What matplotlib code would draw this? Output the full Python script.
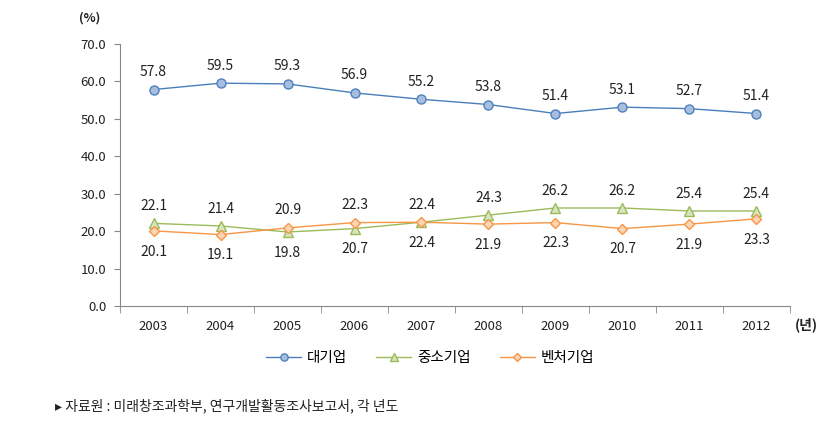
import numpy as np
import matplotlib
matplotlib.use("Agg")
import matplotlib.pyplot as plt

plt.rcParams['font.family'] = ['Noto Sans CJK KR', 'DejaVu Sans']

years = ['2003', '2004', '2005', '2006', '2007', '2008', '2009', '2010', '2011', '2012']
large = [57.8, 59.5, 59.3, 56.9, 55.2, 53.8, 51.4, 53.1, 52.7, 51.4]
sme = [22.1, 21.4, 19.8, 20.7, 22.4, 24.3, 26.2, 26.2, 25.4, 25.4]
venture = [20.1, 19.1, 20.9, 22.3, 22.4, 21.9, 22.3, 20.7, 21.9, 23.3]
names = ['대기업', '중소기업', '벤처기업']
yticks = [0, 10, 20, 30, 40, 50, 60, 70]

fig = plt.figure(figsize=(8.28, 4.47), dpi=100)
ax = fig.add_axes([0.145, 0.315, 0.809, 0.587])
x = np.arange(len(years))

ax.plot(x, large, color='#4A7EBB', lw=1.0, marker='o', ms=6.5,
        mfc='#A7BEDE', mec='#4F81BD', mew=1.0, label=names[0])
ax.plot(x, sme, color='#9BBB59', lw=1.0, marker='^', ms=6.5,
        mfc='#D7E4BD', mec='#9BBB59', mew=1.0, label=names[1])
ax.plot(x, venture, color='#F79646', lw=1.0, marker='D', ms=5,
        mfc='#FCD5B5', mec='#F79646', mew=1.0, label=names[2])

fs = 10
for i in range(len(years)):
    ax.annotate(f'{large[i]:.1f}', (x[i], large[i]), xytext=(0, 7.5),
                textcoords='offset points', ha='center', va='bottom', fontsize=fs, color='#222222')
    if sme[i] >= venture[i]:
        hi, lo = sme[i], venture[i]
    else:
        hi, lo = venture[i], sme[i]
    ax.annotate(f'{hi:.1f}', (x[i], hi), xytext=(0, 7.5),
                textcoords='offset points', ha='center', va='bottom', fontsize=fs, color='#222222')
    ax.annotate(f'{lo:.1f}', (x[i], lo), xytext=(0, -10),
                textcoords='offset points', ha='center', va='top', fontsize=fs, color='#222222')

ax.set_xlim(-0.5, len(years) - 0.5)
ax.set_ylim(0, 70)
ax.set_yticks(yticks)
ax.set_yticklabels([f'{v:.1f}' for v in yticks], fontsize=9.5, color='#222222')
ax.set_xticks(x)
ax.set_xticklabels(years, fontsize=9.5, color='#222222')
ax.set_xticks(np.arange(-0.5, len(years)), minor=True)
ax.tick_params(axis='x', which='major', length=0, pad=10)
ax.tick_params(axis='x', which='minor', length=5, color='#888888', direction='out')
ax.tick_params(axis='y', length=4, color='#888888', direction='out', pad=6)
for s in ['top', 'right']:
    ax.spines[s].set_visible(False)
for s in ['left', 'bottom']:
    ax.spines[s].set_color('#888888')

fig.text(90 / 828, 1 - 18 / 447, '(%)', fontsize=9, fontweight='bold', ha='center', va='center', color='#222222')
fig.text(806 / 828, 1 - 325 / 447, '(년)', fontsize=10, fontweight='bold', ha='center', va='center', color='#222222')

fig.legend(loc='center', bbox_to_anchor=(430 / 828, 1 - 358 / 447), ncol=3, frameon=False,
           fontsize=10.5, handlelength=2.4, columnspacing=2.0, handletextpad=0.4,
           markerscale=0.8)

fig.text(55 / 828, 1 - 406 / 447, '▸ 자료원 : 미래창조과학부, 연구개발활동조사보고서, 각 년도',
         fontsize=10, ha='left', va='center', color='#222222')

fig.savefig('out.png', dpi=100)
